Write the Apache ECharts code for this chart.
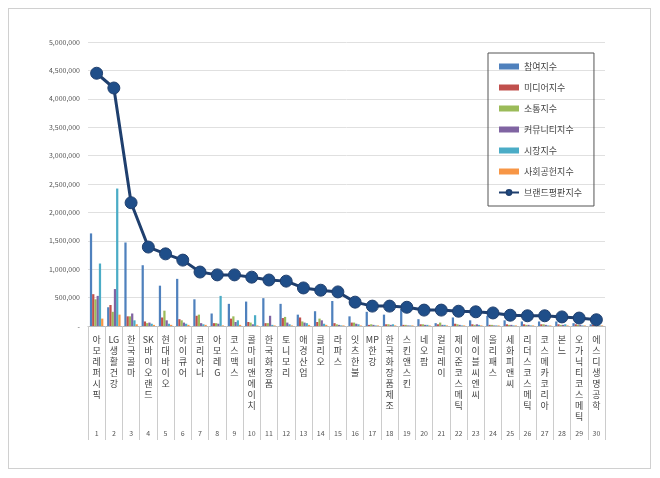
<!DOCTYPE html>
<html><head><meta charset="utf-8">
<script src="https://cdn.jsdelivr.net/npm/echarts@6/dist/echarts.min.js"></script>
<style>
html,body{margin:0;padding:0;background:#fff}
#wrap{position:absolute;left:8px;top:8px;width:643px;height:461px;border:1px solid #d0d0d0;box-sizing:border-box}
#chart{position:absolute;left:0;top:0;width:660px;height:478px}
</style></head>
<body><div id="wrap"></div><div id="chart"></div>
<script>
// 브랜드 순위 1~30
const names = ['아모레퍼시픽','LG생활건강','한국콜마','SK바이오랜드','현대바이오','아이큐어','코리아나','아모레G','코스맥스','콜마비앤에이치',
  '한국화장품','토니모리','애경산업','클리오','라파스','잇츠한불','MP한강','한국화장품제조','스킨앤스킨','네오팜',
  '컬러레이','제이준코스메틱','에이블씨엔씨','올리패스','세화피앤씨','리더스코스메틱','코스메카코리아','본느','오가닉티코스메틱','에스디생명공학'];
const ranks = names.map((n, i) => String(i + 1));

const participation = [1630000,330000,1470000,1070000,710000,830000,470000,220000,390000,430000,490000,390000,200000,260000,440000,170000,250000,200000,300000,120000,50000,150000,100000,180000,100000,80000,80000,80000,50000,30000];
const media = [560000,370000,170000,80000,150000,120000,180000,50000,130000,70000,50000,140000,150000,70000,50000,60000,20000,30000,20000,30000,30000,40000,30000,20000,30000,30000,30000,30000,30000,20000];
const communication = [470000,250000,170000,50000,270000,100000,200000,50000,170000,60000,50000,160000,80000,130000,30000,60000,30000,30000,20000,30000,60000,30000,20000,20000,20000,20000,30000,20000,20000,10000];
const community = [530000,650000,220000,60000,100000,60000,50000,40000,70000,30000,180000,60000,60000,100000,20000,40000,20000,20000,10000,20000,20000,20000,30000,10000,20000,20000,20000,20000,20000,10000];
const market = [1100000,2420000,100000,40000,40000,40000,30000,530000,100000,190000,20000,30000,50000,40000,10000,30000,10000,30000,10000,20000,20000,10000,20000,10000,10000,10000,10000,30000,10000,10000];
const social = [130000,200000,30000,20000,20000,20000,20000,10000,20000,10000,10000,10000,20000,20000,10000,10000,10000,10000,10000,10000,10000,10000,10000,10000,10000,10000,10000,10000,10000,10000];
const reputation = [4450000,4190000,2170000,1390000,1270000,1160000,950000,900000,900000,860000,810000,790000,670000,630000,600000,420000,350000,350000,330000,280000,280000,260000,250000,230000,190000,180000,180000,160000,140000,110000];

const barNames = ['참여지수','미디어지수','소통지수','커뮤니티지수','시장지수','사회공헌지수'];
const barData = [participation, media, communication, community, market, social];
const colors = ['#4f81bd','#c0504d','#9bbb59','#8064a2','#4bacc6','#f79646'];

const chart = echarts.init(document.getElementById('chart'));
const font = '"Noto Sans CJK KR", sans-serif';

const series = barNames.map((n, i) => ({
  name: n, type: 'bar', data: barData[i], barGap: '0%', barCategoryGap: '22%',
  itemStyle: { color: colors[i] }
}));
series.push({
  name: '브랜드평판지수', type: 'line', data: reputation,
  symbol: 'circle', symbolSize: 12, z: 5,
  lineStyle: { color: '#1f3f6e', width: 3 },
  itemStyle: { color: '#1f4e89', borderColor: '#1f3f6e', borderWidth: 1 }
});

// 한글은 한 글자씩 세로로, 영문 연속은 한 덩어리로
function vertical(v) {
  return (v.match(/[A-Za-z]+|./g) || []).join('\n');
}

chart.setOption({
  animation: false,
  textStyle: { fontFamily: font },
  grid: { left: 88, right: 55, top: 42, bottom: 152 },
  legend: {
    orient: 'vertical', left: 488, top: 53, itemGap: 12,
    itemWidth: 20, itemHeight: 6,
    padding: [9, 12, 9, 10],
    borderColor: '#555', borderWidth: 1,
    textStyle: { fontSize: 9, color: '#444', fontFamily: font },
    data: barNames.map(n => ({ name: n, icon: 'rect' })).concat([{ name: '브랜드평판지수' }])
  },
  xAxis: [{
    type: 'category', data: names,
    axisLine: { lineStyle: { color: '#bbb' } },
    axisTick: { show: true, interval: 0, length: 114, lineStyle: { color: '#ccc' } },
    axisLabel: {
      interval: 0, fontSize: 9, color: '#444', lineHeight: 11, margin: 8,
      formatter: vertical, verticalAlign: 'top'
    }
  }, {
    type: 'category', data: ranks, position: 'bottom', offset: 96,
    axisLine: { show: false }, axisTick: { show: false },
    axisLabel: { interval: 0, fontSize: 7, color: '#555' }
  }],
  yAxis: {
    type: 'value', min: 0, max: 5000000, interval: 500000,
    axisLine: { show: false }, axisTick: { show: false },
    splitLine: { lineStyle: { color: '#e0e0e0' } },
    axisLabel: { fontSize: 7, color: '#555', formatter: v => v === 0 ? '-' : v.toLocaleString('en-US') }
  },
  series: series
});
</script></body></html>
